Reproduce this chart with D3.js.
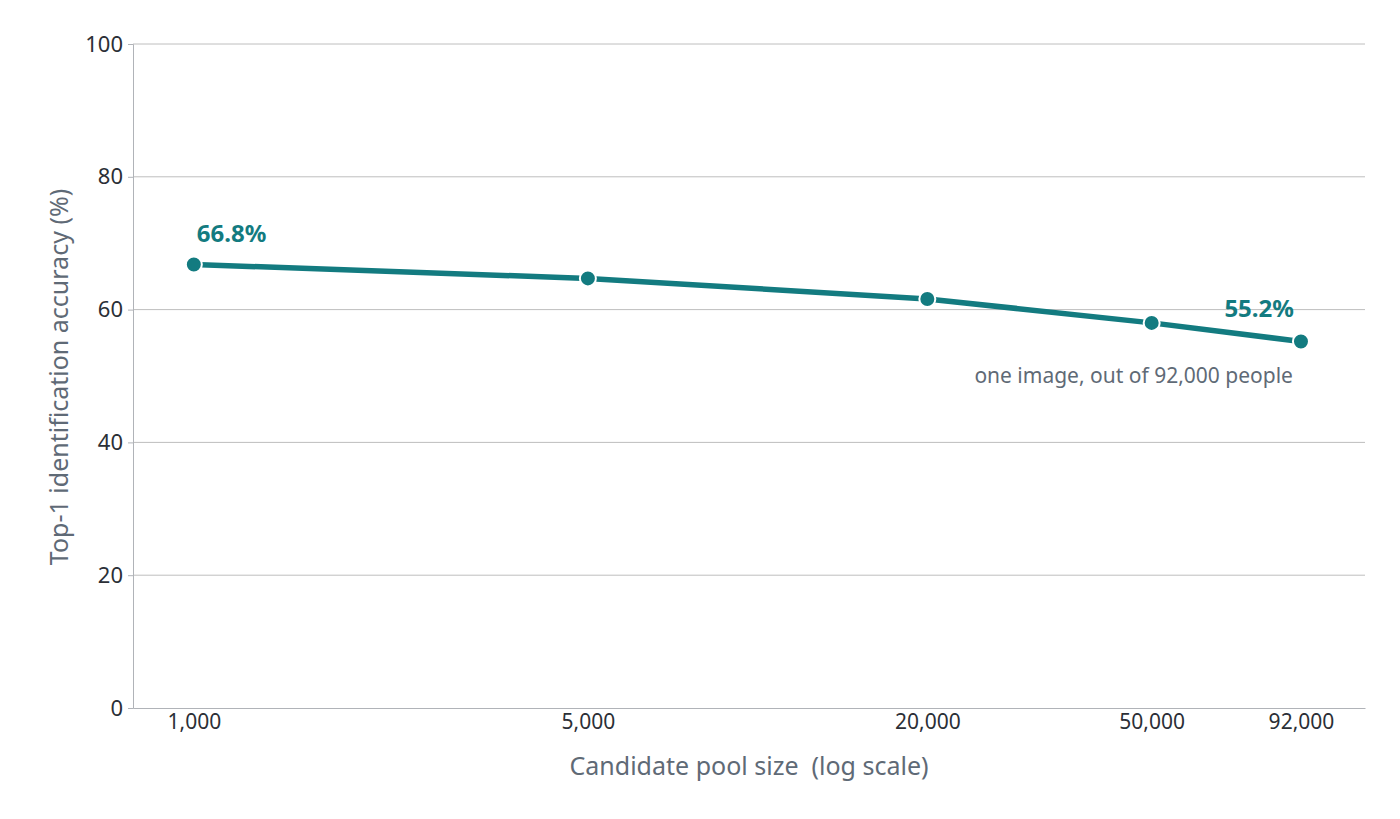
<!DOCTYPE html>
<html>
<head>
<meta charset="utf-8">
<script src="https://cdn.jsdelivr.net/npm/d3@7"></script>
<style>
  body { margin: 0; background: #fff; }
  svg { display: block; font-family: 'Noto Sans', 'Open Sans', sans-serif; }
</style>
</head>
<body>
<div class="canvas"></div>
<script>
const width = 1400
const height = 819

// data
const poolSizes = [1000, 5000, 20000, 50000, 92000]
const accuracy = [66.8, 64.7, 61.6, 58.0, 55.2]
const yTicks = [0, 20, 40, 60, 80, 100]

const teal = '#137b80'
const textDark = '#2b2f36'
const textGray = '#5f6a76'
const gridColor = '#bebebe'

const margin = {top: 44, right: 35, bottom: 111, left: 133}
const innerW = width - margin.left - margin.right
const innerH = height - margin.top - margin.bottom

const svg = d3.select('.canvas')
    .append('svg')
    .attr('width', width)
    .attr('height', height)

const graph = svg.append('g')
    .attr('transform', `translate(${margin.left}, ${margin.top})`)

const x = d3.scaleLog()
    .domain([780, 119500])
    .range([0, innerW])

const y = d3.scaleLinear()
    .domain([0, 100])
    .range([innerH, 0])

// gridlines
graph.selectAll('.grid')
    .data(yTicks.filter(d => d > 0))
    .enter()
    .append('line')
    .attr('class', 'grid')
    .attr('x1', 0)
    .attr('x2', innerW)
    .attr('y1', d => y(d))
    .attr('y2', d => y(d))
    .attr('stroke', gridColor)
    .attr('stroke-width', 1)

// y axis
const yAxis = graph.append('g')
    .call(d3.axisLeft(y).tickValues(yTicks).tickSize(5).tickPadding(5))
yAxis.select('.domain').attr('stroke', '#b0b3b8')
yAxis.selectAll('.tick line').attr('stroke', '#b0b3b8')
yAxis.selectAll('text')
    .attr('font-size', 22)
    .attr('fill', textDark)
    .attr('font-family', "'Noto Sans', sans-serif")

// x axis
const xAxis = graph.append('g')
    .attr('transform', `translate(0, ${innerH})`)
    .call(d3.axisBottom(x).tickValues(poolSizes).tickSize(0).tickPadding(6).tickFormat(d3.format(',')).tickSizeOuter(0))
xAxis.select('.domain').attr('stroke', '#b0b3b8')
xAxis.selectAll('text')
    .attr('font-size', 21)
    .attr('fill', textDark)
    .attr('font-family', "'Noto Sans', sans-serif")

// axis titles
svg.append('text')
    .attr('x', margin.left + innerW / 2)
    .attr('y', 775)
    .attr('text-anchor', 'middle')
    .attr('font-size', 25)
    .attr('fill', textGray)
    .attr('xml:space', 'preserve')
    .text('Candidate pool size  (log scale)')

svg.append('text')
    .attr('transform', `translate(68, ${margin.top + innerH / 2 + 1}) rotate(-90)`)
    .attr('text-anchor', 'middle')
    .attr('font-size', 25)
    .attr('fill', textGray)
    .text('Top-1 identification accuracy (%)')

// line
const points = poolSizes.map((p, i) => ({p, v: accuracy[i]}))
const line = d3.line()
    .x(d => x(d.p))
    .y(d => y(d.v))

graph.append('path')
    .datum(points)
    .attr('d', line)
    .attr('fill', 'none')
    .attr('stroke', teal)
    .attr('stroke-width', 5.5)
    .attr('stroke-linejoin', 'round')

graph.selectAll('.dot')
    .data(points)
    .enter()
    .append('circle')
    .attr('class', 'dot')
    .attr('cx', d => x(d.p))
    .attr('cy', d => y(d.v))
    .attr('r', 8)
    .attr('fill', teal)
    .attr('stroke', '#fff')
    .attr('stroke-width', 2)

// end labels
const first = points[0]
const last = points[points.length - 1]

graph.append('text')
    .attr('x', x(first.p) + 3)
    .attr('y', y(first.v) - 22)
    .attr('font-size', 24)
    .attr('font-weight', 700)
    .attr('fill', teal)
    .text(first.v.toFixed(1) + '%')

graph.append('text')
    .attr('x', x(last.p) - 7)
    .attr('y', y(last.v) - 24)
    .attr('text-anchor', 'end')
    .attr('font-size', 24)
    .attr('font-weight', 700)
    .attr('fill', teal)
    .text(last.v.toFixed(1) + '%')

graph.append('text')
    .attr('x', x(last.p) - 8)
    .attr('y', y(last.v) + 42)
    .attr('text-anchor', 'end')
    .attr('font-size', 21)
    .attr('fill', textGray)
    .text('one image, out of 92,000 people')
</script>
</body>
</html>
